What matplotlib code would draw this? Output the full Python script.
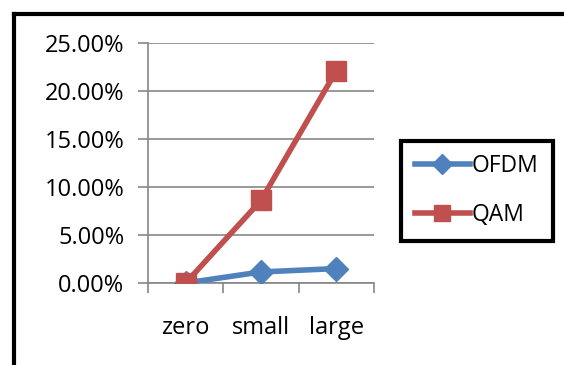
import matplotlib.pyplot as plt
from matplotlib.lines import Line2D
from matplotlib.ticker import FixedLocator, PercentFormatter

categories = ["zero", "small", "large"]
ofdm = [0.0, 1.15, 1.5]
qam = [0.0, 8.6, 22.1]
yticks = [0, 5, 10, 15, 20, 25]

plt.rcParams["font.family"] = ["Open Sans", "DejaVu Sans"]

fig = plt.figure(figsize=(5.64, 3.65), dpi=100)
ax = fig.add_axes([0.2624, 0.2247, 0.4007, 0.6575])

x = range(len(categories))
ax.plot(x, ofdm, color="#4F81BD", lw=4, marker="D", ms=12, label="OFDM", zorder=3)
ax.plot(x, qam, color="#C0504D", lw=4, marker="s", ms=14, label="QAM", zorder=4)

ax.set_xlim(-0.5, 2.5)
ax.set_ylim(0, 25)
ax.set_yticks(yticks)
ax.yaxis.set_major_formatter(PercentFormatter(decimals=2))
ax.set_xticks(list(x))
ax.set_xticklabels(categories)
ax.xaxis.set_minor_locator(FixedLocator([-0.5, 0.5, 1.5, 2.5]))
ax.tick_params(axis="x", which="major", length=0, pad=24, labelsize=17)
ax.tick_params(axis="x", which="minor", length=7, color="#868686", width=1.2)
ax.tick_params(axis="y", length=7, color="#868686", width=1.2, labelsize=17, pad=10)
ax.grid(axis="y", color="#868686", lw=1.2)
ax.set_axisbelow(True)
for s in ["top", "right"]:
    ax.spines[s].set_visible(False)
for s in ["left", "bottom"]:
    ax.spines[s].set_color("#868686")
    ax.spines[s].set_linewidth(1.2)

leg = ax.legend(loc="center left", bbox_to_anchor=(0.711, 0.477),
                bbox_transform=fig.transFigure, fancybox=False, framealpha=1,
                edgecolor="black", fontsize=16.5, handlelength=2.4,
                labelspacing=1.1, borderpad=0.6, handletextpad=0.1,
                borderaxespad=0, markerscale=0.85)
leg.get_frame().set_linewidth(3)

# outer frame along top and left edges
fig.add_artist(Line2D([0.025, 1.0], [0.9616, 0.9616], color="black", lw=3,
                      transform=fig.transFigure))
fig.add_artist(Line2D([0.025, 0.025], [0.0, 0.9616], color="black", lw=3,
                      transform=fig.transFigure))

fig.savefig("out.png", dpi=100)
